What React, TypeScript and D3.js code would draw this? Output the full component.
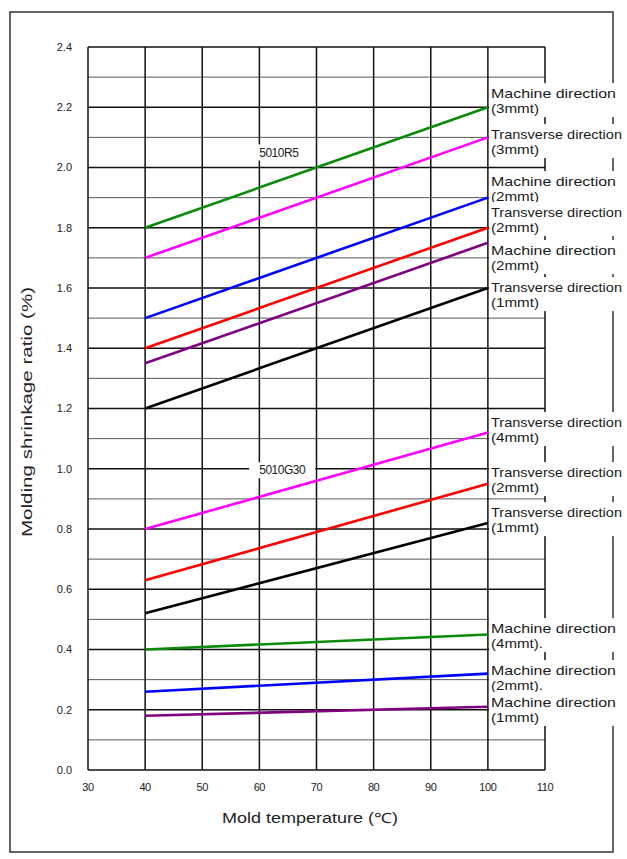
import React from 'react';
import * as d3 from 'd3';

// mold temperature (°C) at the two ends of every line
const temps = [40, 100];

const colors = ['#0a8c0a', '#ff00ff', '#0000ff', '#ff0000', '#800080', '#000000',
  '#ff00ff', '#ff0000', '#000000', '#0a8c0a', '#0000ff', '#800080'];

// shrinkage ratio (%) at 40 and 100 °C
const seriesValues = [
  [1.8, 2.2],
  [1.7, 2.1],
  [1.5, 1.9],
  [1.4, 1.8],
  [1.35, 1.75],
  [1.2, 1.6],
  [0.8, 1.12],
  [0.63, 0.95],
  [0.52, 0.82],
  [0.4, 0.45],
  [0.26, 0.32],
  [0.18, 0.21],
];

const labelLine1 = [
  'Machine direction', 'Transverse direction', 'Machine direction', 'Transverse direction',
  'Machine direction', 'Transverse direction', 'Transverse direction', 'Transverse direction',
  'Transverse direction', 'Machine direction', 'Machine direction', 'Machine direction',
];
const labelLine2 = ['(3mmt)', '(3mmt)', '(2mmt)', '(2mmt)', '(2mmt)', '(1mmt)',
  '(4mmt)', '(2mmt)', '(1mmt)', '(4mmt).', '(2mmt).', '(1mmt)'];
// value (%) where the first label line sits
const labelAt = [2.247, 2.111, 1.955, 1.852, 1.726, 1.603, 1.155, 0.989, 0.856, 0.471, 0.332, 0.226];

const groupNames = ['5010R5', '5010G30'];
const groupTemp = [63.4, 64.0];
const groupValue = [2.05, 0.995];

const xTicks = [30, 40, 50, 60, 70, 80, 90, 100, 110];
const yTicks = ['0.0', '0.2', '0.4', '0.6', '0.8', '1.0', '1.2', '1.4', '1.6', '1.8', '2.0', '2.2', '2.4'];

const W = 627, H = 859;
const x = d3.scaleLinear().domain([30, 110]).range([88, 545]);
const y = d3.scaleLinear().domain([0, 2.4]).range([770, 47]);

const font = '"Liberation Sans", Arial, sans-serif';

export default function App() {
  const line = d3.line<[number, number]>().x(d => x(d[0])).y(d => y(d[1]));
  const hLines = d3.range(0, 25).map(i => i / 10);

  return (
    <svg width={W} height={H} style={{ position: 'absolute', left: 0, top: 0, background: '#fff' }}>
      {/* outer frame */}
      <rect x={10} y={12} width={603} height={840} fill="none" stroke="#333" strokeWidth={1.5} />

      {/* grid */}
      {hLines.map((v, i) => (
        <line key={'h' + i} x1={x(30)} x2={x(110)} y1={y(v)} y2={y(v)}
          stroke={i % 2 === 0 ? '#111' : '#444'} strokeWidth={i % 2 === 0 ? 1.6 : 0.9} />
      ))}
      {xTicks.map(t => (
        <line key={'v' + t} x1={x(t)} x2={x(t)} y1={y(0)} y2={y(2.4)} stroke="#111" strokeWidth={1.5} />
      ))}

      {/* tick labels */}
      {yTicks.map(t => (
        <text key={'yt' + t} x={72} y={y(+t)} dy="0.35em" textAnchor="end"
          fontFamily={font} fontSize={11} fill="#222">{t}</text>
      ))}
      {xTicks.map(t => (
        <text key={'xt' + t} x={x(t)} y={791} textAnchor="middle"
          fontFamily={font} fontSize={11} fill="#222" letterSpacing={-0.4}>{t}</text>
      ))}

      {/* axis titles */}
      <text x={310} y={823} textAnchor="middle" fontFamily={font} fontSize={14} fill="#222"
        textLength={176} lengthAdjust="spacingAndGlyphs">Mold temperature (℃)</text>
      <text transform={`translate(32,412) rotate(-90)`} textAnchor="middle" fontFamily={font}
        fontSize={14} fill="#222" textLength={250} lengthAdjust="spacingAndGlyphs">
        Molding shrinkage ratio (%)</text>

      {/* group labels */}
      {groupNames.map((g, i) => (
        <g key={g}>
          <rect x={x(groupTemp[i]) - 33} y={y(groupValue[i]) - 8} width={66} height={16} fill="#fff" />
          <text x={x(groupTemp[i])} y={y(groupValue[i])} dy="0.35em" textAnchor="middle" fontFamily={font}
            fontSize={12} fill="#222" letterSpacing={-0.5}>{g}</text>
        </g>
      ))}

      {/* series */}
      {seriesValues.map((vals, i) => (
        <path key={'s' + i} d={line(temps.map((t, j) => [t, vals[j]]) as [number, number][]) || ''}
          fill="none" stroke={colors[i]} strokeWidth={2.6} />
      ))}

      {/* line labels */}
      {labelLine1.map((l, i) => {
        const cy = y(labelAt[i]);
        return (
          <g key={'l' + i}>
            <rect x={489} y={cy - 10} width={138} height={34} fill="#fff" />
            <text x={491} y={cy} dy="0.35em" fontFamily={font} fontSize={13.5} fill="#1a1a1a"
              textLength={l.startsWith('T') ? 131 : 125} lengthAdjust="spacingAndGlyphs">{l}</text>
            <text x={491} y={cy + 15} dy="0.35em" fontFamily={font} fontSize={13.5} fill="#1a1a1a"
              textLength={labelLine2[i].endsWith('.') ? 52 : 48} lengthAdjust="spacingAndGlyphs">
              {labelLine2[i]}</text>
          </g>
        );
      })}
    </svg>
  );
}
